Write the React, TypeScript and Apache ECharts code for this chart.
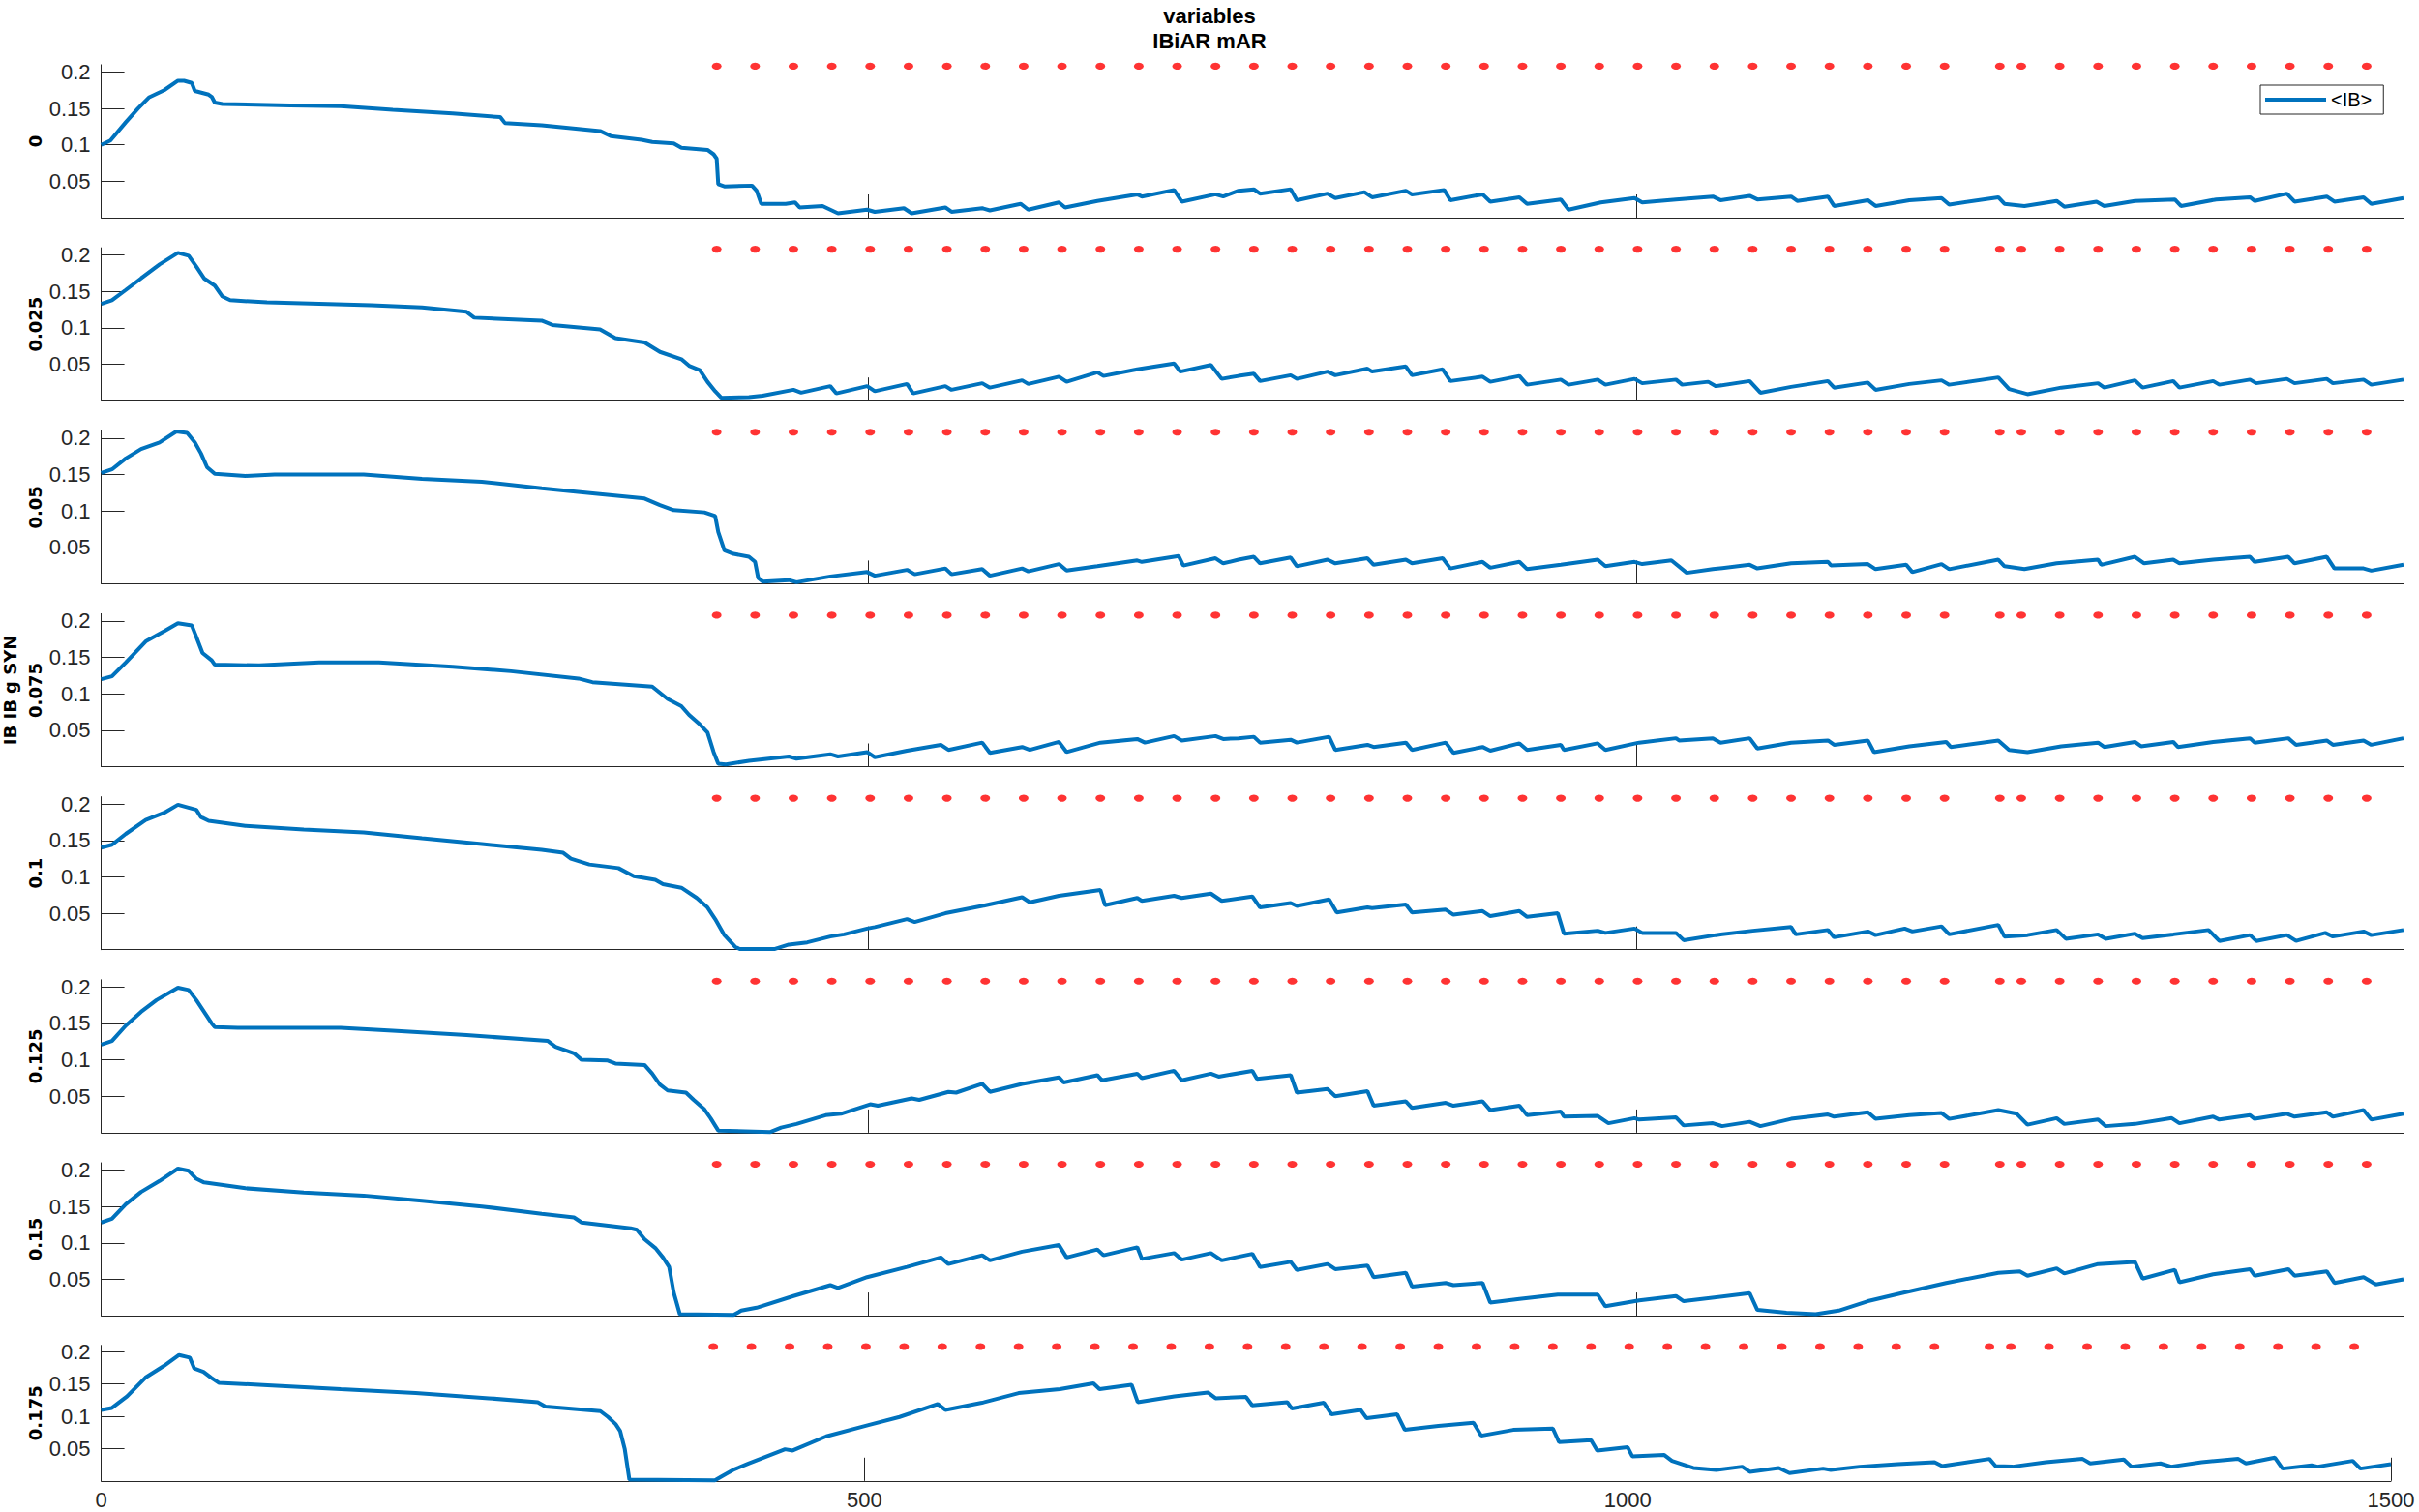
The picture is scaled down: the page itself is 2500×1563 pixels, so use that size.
import React, { useEffect, useRef } from "react";
import * as echarts from "echarts";

const FONT = "Liberation Sans, Arial, Helvetica, sans-serif";
const LABEL_FONT = "DejaVu Sans, Verdana, sans-serif";

const titleLines = ["variables", "IBiAR mAR"];
const panelNames = ["0", "0.025", "0.05", "IB IB g SYN\n0.075", "0.1", "0.125", "0.15", "0.175"];
const legendLabel = "<IB>";
const yTicks = [0.05, 0.1, 0.15, 0.2];
const xTicks = [500, 1000, 1500];
const xTickLabels = [0, 500, 1000, 1500];
const eventY = 0.208;
const eventX = [401, 426, 451, 476, 501, 526, 551, 576, 601, 626, 651, 676, 701, 726, 751, 776, 801, 826, 851, 876, 901, 926, 951, 976, 1001, 1026, 1051, 1076, 1101, 1126, 1151, 1176, 1201, 1237, 1251, 1276, 1301, 1326, 1351, 1376, 1401, 1426, 1451, 1476];

const ib0 = [[0,0.100],[6,0.106],[16,0.131],[24,0.150],[31,0.165],[41,0.175],[50,0.188],[54,0.188],[59,0.185],[61,0.174],[70,0.169],[72,0.166],[74,0.158],[79,0.156],[123,0.154],[156,0.153],[190,0.148],[229,0.143],[260,0.138],[263,0.130],[287,0.127],[325,0.119],[332,0.112],[352,0.107],[359,0.104],[373,0.102],[378,0.096],[395,0.093],[399,0.087],[401,0.081],[402,0.046],[406,0.043],[424,0.044],[427,0.037],[430,0.019],[446,0.019],[452,0.021],[455,0.014],[470,0.016],[475,0.011],[480,0.006],[499,0.011],[504,0.008],[523,0.013],[528,0.006],[550,0.014],[554,0.008],[574,0.013],[579,0.010],[599,0.019],[604,0.011],[624,0.021],[628,0.014],[649,0.023],[675,0.032],[678,0.029],[699,0.038],[704,0.022],[726,0.032],[731,0.029],[741,0.037],[751,0.039],[755,0.033],[775,0.039],[779,0.024],[799,0.033],[804,0.027],[823,0.035],[828,0.028],[850,0.037],[854,0.032],[875,0.038],[879,0.024],[900,0.032],[905,0.022],[924,0.028],[929,0.019],[951,0.025],[956,0.011],[977,0.021],[999,0.027],[1004,0.021],[1026,0.025],[1050,0.029],[1055,0.024],[1074,0.030],[1079,0.025],[1101,0.029],[1105,0.023],[1125,0.029],[1129,0.016],[1151,0.024],[1156,0.016],[1178,0.024],[1199,0.027],[1204,0.018],[1236,0.028],[1240,0.019],[1253,0.016],[1274,0.023],[1279,0.015],[1300,0.022],[1305,0.016],[1325,0.023],[1351,0.025],[1355,0.016],[1378,0.025],[1400,0.028],[1403,0.023],[1424,0.033],[1429,0.022],[1450,0.029],[1455,0.022],[1474,0.028],[1479,0.019],[1500,0.027]];

const ib025 = [[0,0.133],[7,0.138],[16,0.152],[26,0.168],[38,0.187],[50,0.203],[57,0.199],[62,0.184],[67,0.168],[74,0.158],[79,0.143],[84,0.138],[108,0.135],[142,0.133],[176,0.131],[209,0.128],[238,0.122],[243,0.114],[287,0.110],[294,0.104],[325,0.098],[335,0.086],[354,0.080],[364,0.067],[378,0.057],[383,0.048],[390,0.042],[395,0.026],[400,0.013],[404,0.004],[422,0.005],[431,0.007],[451,0.015],[456,0.011],[475,0.020],[479,0.010],[499,0.020],[504,0.013],[525,0.023],[529,0.010],[550,0.020],[554,0.015],[574,0.024],[579,0.018],[600,0.028],[604,0.023],[624,0.033],[629,0.026],[649,0.039],[653,0.034],[675,0.043],[699,0.051],[703,0.040],[723,0.049],[730,0.030],[741,0.034],[751,0.037],[755,0.027],[775,0.035],[779,0.030],[799,0.040],[804,0.035],[825,0.044],[828,0.040],[850,0.047],[854,0.035],[874,0.043],[879,0.027],[900,0.033],[905,0.026],[924,0.034],[929,0.022],[951,0.029],[956,0.022],[975,0.029],[980,0.022],[999,0.030],[1004,0.024],[1026,0.029],[1030,0.022],[1047,0.026],[1052,0.020],[1074,0.027],[1081,0.011],[1101,0.019],[1125,0.027],[1129,0.018],[1151,0.025],[1156,0.015],[1178,0.023],[1199,0.028],[1204,0.022],[1236,0.032],[1243,0.016],[1255,0.009],[1277,0.018],[1301,0.024],[1305,0.018],[1325,0.028],[1330,0.018],[1350,0.027],[1354,0.018],[1376,0.027],[1380,0.022],[1400,0.029],[1404,0.024],[1424,0.030],[1429,0.024],[1450,0.030],[1454,0.024],[1474,0.029],[1479,0.022],[1500,0.029]];

const ib05 = [[0,0.152],[7,0.157],[16,0.172],[26,0.185],[38,0.194],[49,0.209],[56,0.207],[61,0.194],[65,0.179],[69,0.160],[74,0.151],[94,0.148],[113,0.150],[171,0.150],[209,0.144],[248,0.140],[287,0.131],[325,0.123],[354,0.117],[364,0.108],[373,0.101],[393,0.098],[400,0.093],[402,0.071],[406,0.046],[412,0.041],[422,0.037],[426,0.030],[428,0.008],[431,0.003],[448,0.005],[453,0.002],[475,0.010],[499,0.016],[504,0.011],[525,0.019],[530,0.013],[550,0.021],[554,0.013],[574,0.020],[579,0.011],[600,0.021],[604,0.017],[624,0.027],[629,0.018],[649,0.024],[675,0.032],[678,0.030],[702,0.038],[705,0.025],[726,0.035],[731,0.028],[741,0.033],[751,0.037],[755,0.028],[775,0.036],[779,0.024],[799,0.033],[804,0.028],[825,0.035],[829,0.026],[850,0.033],[854,0.028],[874,0.035],[879,0.021],[900,0.030],[905,0.022],[924,0.030],[929,0.020],[951,0.026],[975,0.033],[980,0.024],[999,0.030],[1004,0.027],[1023,0.032],[1033,0.015],[1050,0.020],[1074,0.026],[1079,0.021],[1101,0.028],[1125,0.030],[1127,0.025],[1151,0.027],[1156,0.020],[1176,0.026],[1180,0.016],[1199,0.027],[1204,0.020],[1236,0.033],[1240,0.024],[1253,0.020],[1274,0.028],[1301,0.033],[1303,0.026],[1325,0.037],[1331,0.028],[1350,0.033],[1354,0.028],[1376,0.033],[1400,0.037],[1403,0.030],[1425,0.037],[1429,0.028],[1450,0.037],[1455,0.021],[1474,0.021],[1479,0.018],[1500,0.026]];

const ib075 = [[0,0.120],[7,0.124],[16,0.143],[29,0.172],[41,0.186],[50,0.197],[59,0.194],[62,0.178],[66,0.156],[72,0.146],[74,0.140],[103,0.139],[142,0.143],[181,0.143],[229,0.137],[267,0.131],[311,0.121],[320,0.116],[359,0.110],[369,0.093],[378,0.083],[383,0.071],[390,0.058],[395,0.047],[399,0.020],[402,0.004],[407,0.003],[422,0.008],[448,0.014],[453,0.011],[475,0.017],[480,0.014],[499,0.020],[504,0.013],[525,0.022],[547,0.030],[552,0.023],[574,0.033],[579,0.019],[600,0.027],[605,0.023],[624,0.034],[629,0.020],[651,0.033],[675,0.038],[680,0.033],[699,0.042],[704,0.036],[726,0.042],[731,0.038],[741,0.039],[751,0.041],[755,0.033],[775,0.037],[779,0.033],[800,0.041],[804,0.023],[825,0.030],[829,0.027],[850,0.033],[854,0.023],[876,0.033],[881,0.019],[900,0.027],[905,0.022],[924,0.032],[929,0.023],[951,0.030],[953,0.023],[975,0.032],[980,0.023],[1002,0.033],[1026,0.039],[1028,0.036],[1050,0.039],[1055,0.033],[1074,0.039],[1079,0.025],[1101,0.033],[1125,0.036],[1129,0.030],[1151,0.036],[1155,0.020],[1178,0.028],[1202,0.034],[1205,0.027],[1236,0.036],[1243,0.023],[1255,0.020],[1277,0.028],[1301,0.033],[1305,0.027],[1325,0.034],[1329,0.028],[1350,0.034],[1353,0.027],[1376,0.034],[1400,0.039],[1403,0.033],[1425,0.039],[1430,0.030],[1450,0.036],[1454,0.030],[1474,0.036],[1479,0.030],[1500,0.039]];

const ib1 = [[0,0.140],[7,0.144],[16,0.159],[29,0.178],[41,0.188],[50,0.199],[62,0.192],[65,0.182],[70,0.177],[94,0.170],[132,0.165],[171,0.161],[209,0.153],[248,0.145],[287,0.137],[301,0.133],[306,0.125],[318,0.117],[337,0.112],[347,0.101],[361,0.096],[366,0.090],[378,0.085],[388,0.071],[395,0.058],[400,0.042],[406,0.020],[413,0.004],[416,0.001],[439,0.001],[448,0.007],[460,0.010],[475,0.018],[484,0.021],[499,0.029],[504,0.031],[525,0.042],[530,0.038],[550,0.050],[574,0.060],[600,0.072],[605,0.065],[624,0.074],[651,0.082],[654,0.061],[675,0.071],[678,0.067],[699,0.074],[704,0.071],[723,0.077],[730,0.067],[750,0.073],[755,0.058],[775,0.064],[779,0.060],[800,0.069],[805,0.051],[825,0.058],[828,0.057],[850,0.062],[854,0.051],[876,0.055],[881,0.048],[900,0.053],[905,0.046],[924,0.053],[929,0.045],[949,0.050],[953,0.022],[975,0.026],[980,0.023],[999,0.029],[1004,0.023],[1026,0.023],[1031,0.013],[1052,0.020],[1076,0.026],[1101,0.031],[1104,0.021],[1125,0.027],[1129,0.017],[1151,0.025],[1156,0.020],[1175,0.029],[1180,0.025],[1199,0.032],[1204,0.021],[1236,0.034],[1240,0.018],[1255,0.020],[1274,0.027],[1280,0.015],[1301,0.021],[1306,0.015],[1325,0.022],[1330,0.016],[1350,0.021],[1373,0.027],[1380,0.012],[1400,0.020],[1404,0.012],[1424,0.020],[1430,0.012],[1449,0.023],[1454,0.018],[1474,0.025],[1479,0.020],[1500,0.027]];

const ib125 = [[0,0.121],[7,0.126],[16,0.147],[26,0.166],[36,0.182],[50,0.199],[57,0.196],[62,0.182],[67,0.166],[72,0.150],[74,0.145],[89,0.144],[156,0.144],[190,0.140],[238,0.134],[291,0.126],[296,0.118],[308,0.109],[313,0.100],[330,0.099],[335,0.095],[354,0.093],[359,0.081],[364,0.066],[369,0.058],[381,0.055],[386,0.045],[393,0.032],[397,0.020],[402,0.003],[436,0.001],[443,0.007],[453,0.012],[472,0.024],[482,0.026],[501,0.039],[506,0.037],[528,0.047],[533,0.045],[552,0.056],[557,0.055],[574,0.067],[579,0.056],[600,0.067],[624,0.076],[627,0.069],[649,0.079],[652,0.072],[675,0.081],[678,0.075],[699,0.085],[704,0.072],[723,0.081],[728,0.077],[750,0.085],[753,0.074],[775,0.079],[779,0.055],[799,0.060],[804,0.050],[825,0.057],[829,0.037],[850,0.043],[854,0.034],[876,0.041],[881,0.037],[900,0.043],[905,0.031],[924,0.037],[929,0.024],[951,0.029],[953,0.022],[975,0.023],[982,0.013],[999,0.020],[1002,0.018],[1026,0.021],[1031,0.010],[1050,0.013],[1056,0.009],[1074,0.015],[1081,0.009],[1101,0.019],[1125,0.025],[1129,0.022],[1151,0.028],[1156,0.019],[1178,0.024],[1199,0.027],[1204,0.019],[1236,0.031],[1248,0.026],[1255,0.011],[1274,0.020],[1279,0.012],[1301,0.018],[1306,0.009],[1325,0.012],[1349,0.020],[1354,0.013],[1376,0.022],[1380,0.018],[1400,0.024],[1403,0.019],[1424,0.026],[1429,0.022],[1450,0.028],[1454,0.022],[1474,0.031],[1479,0.018],[1500,0.026]];

const ib15 = [[0,0.128],[7,0.133],[16,0.153],[26,0.170],[38,0.185],[50,0.202],[57,0.199],[62,0.188],[67,0.183],[94,0.175],[132,0.169],[171,0.165],[209,0.158],[248,0.150],[287,0.140],[308,0.135],[313,0.128],[345,0.120],[349,0.118],[354,0.105],[361,0.093],[366,0.080],[370,0.067],[373,0.032],[377,0.002],[412,0.001],[417,0.007],[427,0.011],[451,0.027],[475,0.042],[480,0.038],[499,0.053],[525,0.067],[547,0.080],[552,0.071],[574,0.083],[579,0.076],[600,0.088],[624,0.097],[629,0.080],[649,0.091],[653,0.083],[675,0.094],[678,0.078],[699,0.086],[704,0.077],[723,0.086],[730,0.076],[750,0.085],[755,0.067],[775,0.074],[779,0.063],[799,0.071],[804,0.064],[825,0.069],[829,0.053],[850,0.059],[854,0.040],[876,0.045],[881,0.042],[900,0.045],[905,0.018],[924,0.023],[949,0.029],[975,0.029],[980,0.013],[1002,0.021],[1026,0.027],[1031,0.020],[1074,0.031],[1079,0.008],[1098,0.004],[1117,0.002],[1132,0.007],[1151,0.020],[1175,0.032],[1202,0.045],[1236,0.059],[1250,0.061],[1255,0.055],[1274,0.065],[1279,0.058],[1301,0.071],[1325,0.074],[1330,0.051],[1351,0.063],[1354,0.046],[1376,0.057],[1400,0.064],[1403,0.055],[1425,0.064],[1429,0.055],[1450,0.061],[1455,0.045],[1474,0.053],[1482,0.043],[1500,0.050]];

const ib175 = [[0,0.110],[7,0.113],[17,0.131],[29,0.160],[41,0.178],[51,0.195],[58,0.191],[61,0.174],[67,0.169],[72,0.160],[77,0.152],[109,0.148],[157,0.142],[206,0.136],[254,0.128],[286,0.122],[291,0.115],[327,0.108],[332,0.099],[337,0.088],[340,0.077],[343,0.049],[346,0.002],[402,0.001],[414,0.017],[424,0.027],[448,0.049],[453,0.047],[475,0.069],[502,0.086],[523,0.099],[548,0.119],[553,0.110],[577,0.121],[601,0.136],[628,0.142],[650,0.151],[654,0.142],[675,0.149],[679,0.122],[703,0.131],[725,0.137],[730,0.128],[750,0.130],[754,0.117],[777,0.122],[780,0.112],[801,0.121],[806,0.103],[825,0.110],[829,0.097],[849,0.103],[854,0.079],[876,0.085],[899,0.090],[904,0.070],[925,0.079],[951,0.081],[955,0.060],[976,0.063],[980,0.047],[1000,0.052],[1003,0.038],[1024,0.040],[1029,0.031],[1043,0.020],[1058,0.017],[1075,0.022],[1080,0.014],[1099,0.020],[1106,0.012],[1128,0.019],[1133,0.017],[1152,0.022],[1177,0.026],[1201,0.029],[1206,0.023],[1237,0.034],[1241,0.023],[1252,0.022],[1274,0.029],[1298,0.034],[1303,0.027],[1325,0.033],[1330,0.022],[1349,0.027],[1356,0.022],[1376,0.029],[1400,0.034],[1405,0.027],[1424,0.036],[1429,0.019],[1448,0.024],[1452,0.022],[1475,0.031],[1480,0.019],[1500,0.026]];

const panelData = [ib0, ib025, ib05, ib075, ib1, ib125, ib15, ib175];

// layout (px)
const gridLeft = 104.6;
const gridTops = [66.9, 256.1, 445.3, 634.4, 823.6, 1012.8, 1202.0, 1390.7];
const gridHeights = [158.1, 158.1, 158.1, 158.1, 158.1, 158.1, 158.1, 140.1];
const gridWidths = [2379.4, 2379.4, 2379.4, 2379.4, 2379.4, 2379.4, 2379.4, 2366.4];

const AXIS_COLOR = "#262626";
const LINE_COLOR = "#0072BD";

function buildOption() {
  const n = panelData.length;
  const grid = panelData.map((_, i) => ({
    left: gridLeft,
    top: gridTops[i],
    width: gridWidths[i],
    height: gridHeights[i],
    containLabel: false,
    outerBoundsMode: "none",
  }));
  const xAxis = panelData.map((_, i) => ({
    type: "value",
    gridIndex: i,
    min: 0,
    max: 1500,
    interval: 500,
    axisLine: { show: true, onZero: false, lineStyle: { color: AXIS_COLOR, width: 1 } },
    axisTick: { show: true, inside: true, length: 24, customValues: xTicks, lineStyle: { color: AXIS_COLOR, width: 1 } },
    axisLabel: {
      show: i === n - 1,
      customValues: xTickLabels,
      margin: 9,
      fontSize: 22,
      fontFamily: FONT,
      color: AXIS_COLOR,
      formatter: (v: number) => String(v),
    },
    splitLine: { show: false },
  }));
  const yAxis = panelData.map((_, i) => ({
    type: "value",
    gridIndex: i,
    min: 0,
    max: 0.21,
    name: panelNames[i],
    nameLocation: "middle",
    nameRotate: 90,
    nameGap: 55,
    nameMoveOverlap: false,
    nameTextStyle: { fontSize: 18, fontWeight: "bold", lineHeight: 26, color: "#000", fontFamily: LABEL_FONT },
    axisLine: { show: true, lineStyle: { color: AXIS_COLOR, width: 1 } },
    axisTick: { show: true, inside: true, length: 24, customValues: yTicks, lineStyle: { color: AXIS_COLOR, width: 1 } },
    axisLabel: {
      show: true,
      customValues: yTicks,
      margin: 11,
      fontSize: 22,
      fontFamily: FONT,
      color: AXIS_COLOR,
      formatter: (v: number) => String(v),
    },
    splitLine: { show: false },
  }));
  const series: any[] = [];
  panelData.forEach((d, i) => {
    series.push({
      type: "line",
      name: legendLabel,
      xAxisIndex: i,
      yAxisIndex: i,
      data: d,
      showSymbol: false,
      symbol: "none",
      clip: false,
      lineStyle: { color: LINE_COLOR, width: 4 },
      itemStyle: { color: LINE_COLOR },
      z: 3,
    });
    series.push({
      type: "scatter",
      name: "events",
      xAxisIndex: i,
      yAxisIndex: i,
      data: eventX.map((x) => [x, eventY]),
      symbol: "circle",
      symbolSize: [10, 7],
      itemStyle: { color: "#FF0000" },
      clip: false,
      z: 4,
    });
  });
  return {
    animation: false,
    backgroundColor: "#ffffff",
    textStyle: { fontFamily: FONT },
    title: {
      text: titleLines.join("\n"),
      left: 1250,
      top: 3,
      padding: 0,
      textAlign: "center",
      textStyle: { fontSize: 22, fontWeight: "bold", lineHeight: 26, color: "#000", fontFamily: FONT },
    },
    legend: {
      data: [legendLabel],
      left: 2336,
      top: 88,
      orient: "horizontal",
      padding: [5, 12, 5, 5],
      borderColor: AXIS_COLOR,
      borderWidth: 1,
      backgroundColor: "#fff",
      itemWidth: 63,
      itemHeight: 4,
      icon: "rect",
      selectedMode: false,
      textStyle: { fontSize: 20, color: "#000", fontFamily: FONT },
    },
    grid,
    xAxis,
    yAxis,
    series,
  };
}

export default function App() {
  const ref = useRef<HTMLDivElement>(null);
  useEffect(() => {
    if (!ref.current) return;
    const chart = echarts.init(ref.current, null, { renderer: "svg" });
    chart.setOption(buildOption() as any);
    return () => chart.dispose();
  }, []);
  return (
    <div
      ref={ref}
      style={{ position: "fixed", left: 0, top: 0, width: 2500, height: 1563, background: "#fff" }}
    />
  );
}
